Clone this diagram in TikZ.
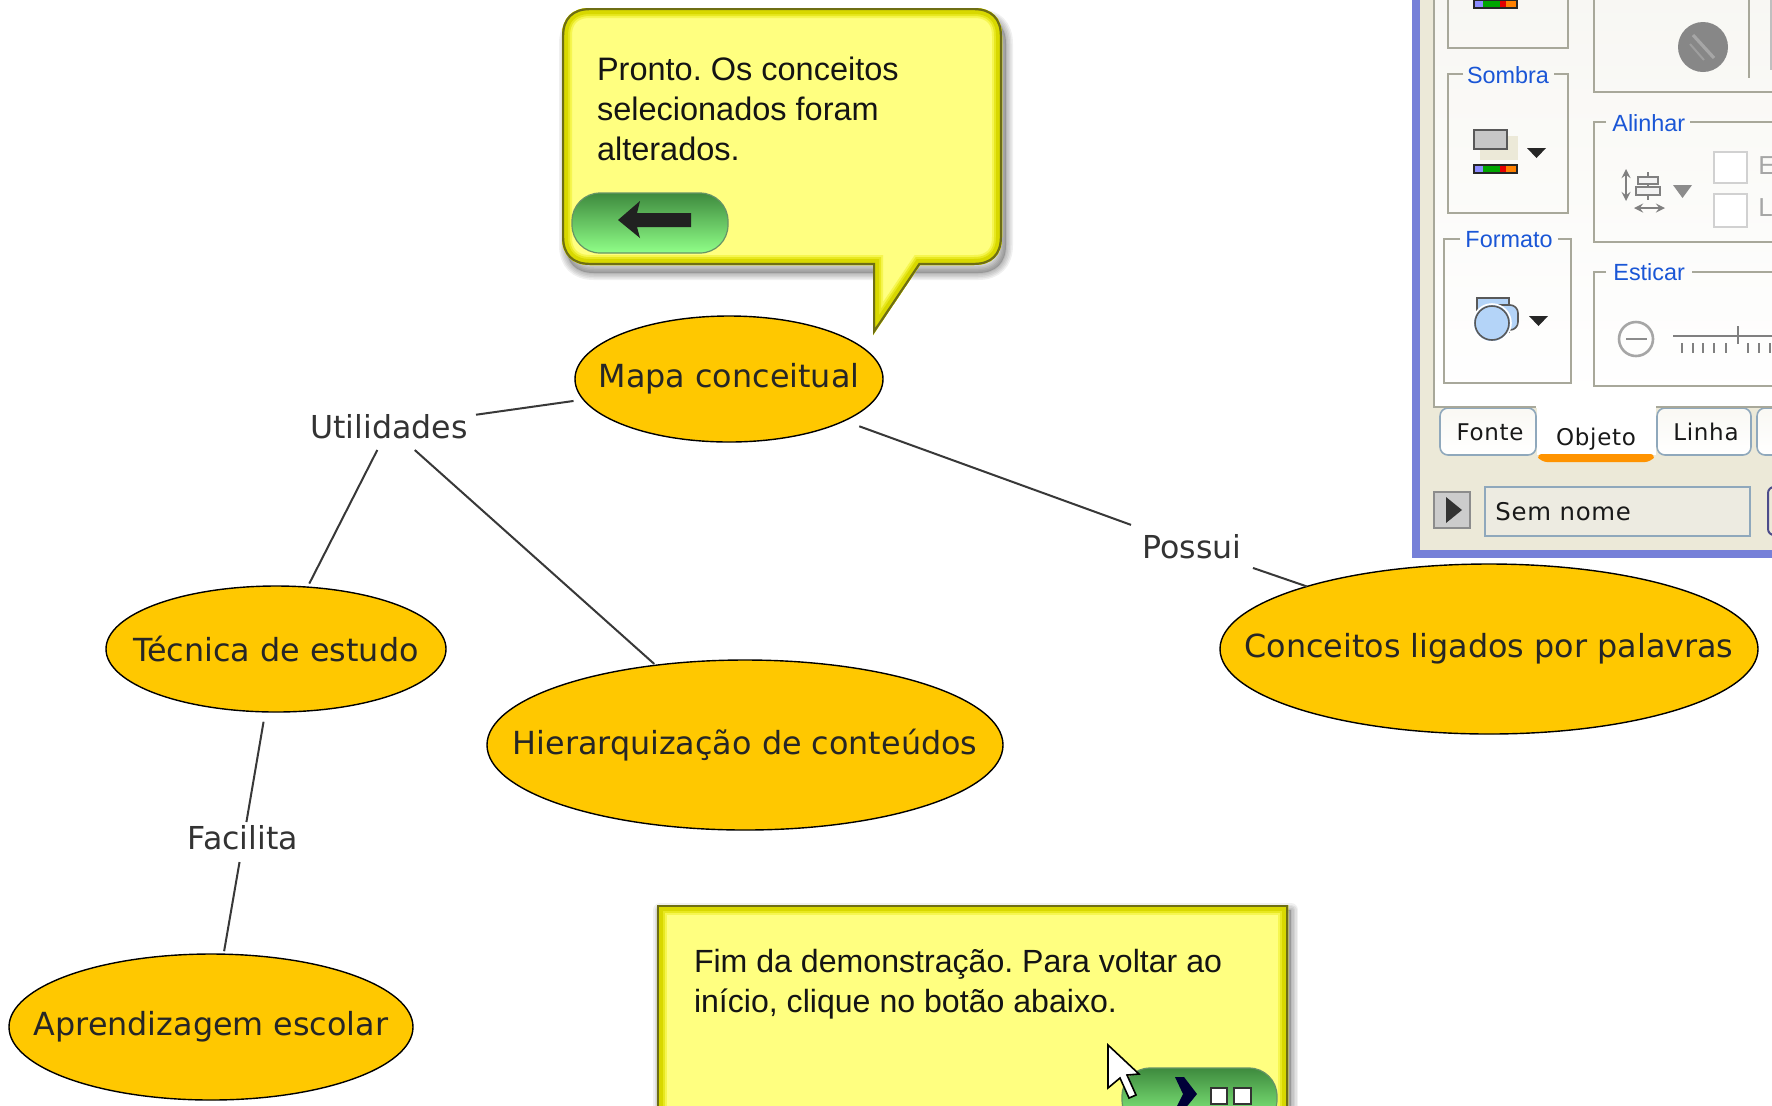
\documentclass[tikz,border=0pt]{standalone}
\usepackage{fontspec}
\setmainfont{Liberation Sans}
\newfontfamily\mapfont{DejaVu Sans}
\newfontfamily\tabfont[LetterSpace=3]{DejaVu Sans}
\usetikzlibrary{shapes.geometric}
\definecolor{conceptfill}{HTML}{FFC800}
\definecolor{notefill}{HTML}{FFFF80}
\definecolor{noteedge}{HTML}{6E6E14}
\definecolor{noteinner}{HTML}{D8D800}
\definecolor{notemid}{HTML}{E8E820}
\definecolor{notesoft}{HTML}{F6F650}
\definecolor{groupline}{HTML}{A8A89A}
\definecolor{beige}{HTML}{ECE9D8}
\definecolor{panelblue}{HTML}{7680D8}
\definecolor{labelblue}{HTML}{1A56D6}
\definecolor{tabedge}{HTML}{8FA8BC}
\definecolor{iconblue}{HTML}{B4D4F8}
\definecolor{pilltop}{HTML}{3E8A3E}
\definecolor{pillmid}{HTML}{78F078}
\definecolor{pilllow}{HTML}{90FF88}
\tikzset{
  concept/.style={ellipse,draw=black,line width=0.7pt,fill=conceptfill,inner sep=0pt,outer sep=0pt,
    text=black!85,font=\mapfont\fontsize{15.9}{18}\selectfont},
  linkword/.style={inner sep=0pt,outer sep=0pt,text=black!80,font=\mapfont\fontsize{15.8}{18}\selectfont},
  link/.style={draw=black!78,line width=1pt},
  notetext/.style={inner sep=0pt,outer sep=0pt,anchor=north west,align=left,text=black!92,
    font=\frenchspacing\fontsize{16.25}{20.1}\selectfont},
  grouplabel/.style={inner sep=0pt,text=labelblue,font=\fontsize{11.7}{14}\selectfont},
  groupbox/.style={draw=groupline,line width=1pt},
  tablabel/.style={inner sep=0pt,text=black!90,font=\tabfont\fontsize{11.5}{14}\selectfont},
  pill/.style={shade,top color=pilltop,middle color=pillmid,bottom color=pilllow,draw=green!30!black!60,line width=0.6pt,rounded corners=14pt},
  softshadow/.style={draw=black,opacity=0.06,line cap=round,line join=round},
}
\newcommand{\ribbon}[2]{%
  \fill[black!85] (#1,#2) rectangle ++(45,10);
  \fill[blue!45!white] (#1+2,#2+2) rectangle ++(8,6);
  \fill[green!65!black] (#1+10,#2+2) rectangle ++(17,6);
  \fill[red!90!black] (#1+27,#2+2) rectangle ++(6,6);
  \fill[orange] (#1+33,#2+2) rectangle ++(10,6);}
\newcommand{\bubblepath}{(562,36) .. controls (562,18) and (572,8) .. (590,8) -- (974,8) .. controls (992,8) and (1002,18) .. (1002,36) -- (1002,237) .. controls (1002,255) and (992,265) .. (974,265) -- (920,265) -- (873,335) -- (873,265) -- (590,265) .. controls (572,265) and (562,255) .. (562,237) -- cycle}
\newcommand{\bubbleback}{(566,44) .. controls (566,26) and (576,16) .. (594,16) -- (978,16) .. controls (996,16) and (1006,26) .. (1006,44) -- (1006,245) .. controls (1006,263) and (996,273) .. (978,273) -- (594,273) .. controls (576,273) and (566,263) .. (566,245) -- cycle}
\newcommand{\notepath}{(657,905) -- (1288,905) -- (1288,1135) -- (657,1135) -- cycle}
\newcommand{\noteback}{(660,910) -- (1291,910) -- (1291,1140) -- (660,1140) -- cycle}
\newcommand{\bevelled}[1]{%
  \fill[notefill] #1;
  \begin{scope}
    \clip #1;
    \draw[notesoft,line width=10pt,line join=miter] #1;
    \draw[notemid,line width=8pt,line join=miter] #1;
    \draw[noteinner,line width=6pt,line join=miter] #1;
    \draw[noteedge,line width=2.2pt,line join=miter] #1;
  \end{scope}}
\newcommand{\softback}[1]{%
  \foreach \wd in {7,5.5,4,2.5,1}
    \draw[softshadow,line width=\wd pt] #1;
  \fill[black,opacity=0.18] #1;}
\begin{document}
\begin{tikzpicture}[x=0.5pt,y=-0.5pt]
\clip (0,0) rectangle (1772,1105);
\fill[white] (0,0) rectangle (1772,1105);

% concepts
\node[concept,minimum width=154pt,minimum height=63pt] (mapa) at (729,379) {\makebox[0pt]{Mapa conceitual}};
\node[concept,minimum width=170pt,minimum height=63pt] (tecnica) at (276,649) {\makebox[0pt]{Técnica de estudo}};
\node[concept,minimum width=258pt,minimum height=85pt] (hier) at (745,745) {\makebox[0pt]{Hierarquização de conteúdos}};
\node[concept,minimum width=269pt,minimum height=85pt] (ligados) at (1489,649) {\makebox[0pt]{Conceitos ligados por palavras}};
\node[concept,minimum width=202pt,minimum height=73pt] (aprend) at (211,1027) {\makebox[0pt]{Aprendizagem escolar}};
% linking words
\node[linkword,minimum width=87pt,minimum height=23pt] (util) at (389,427) {Utilidades};
\node[linkword,minimum width=61pt,minimum height=23pt] (possui) at (1192,547) {Possui};
\node[linkword,minimum width=50pt,minimum height=20pt,text depth=5pt] (facilita) at (243,842) {Facilita};
% connectors
\draw[link,shorten >=5pt] (util) -- (mapa);
\draw[link,shorten >=2pt] (util) -- (tecnica);
\draw[link,shorten >=1pt] (util) -- (hier);
\draw[link,shorten <=8pt] (mapa) -- (possui);
\draw[link] (possui) -- (ligados);
\draw[link,shorten <=5pt] (tecnica) -- (facilita);
\draw[link,shorten >=1.5pt] (facilita) -- (aprend);

% panel
\fill[panelblue] (1412,-5) rectangle (1790,558);
\fill[beige] (1420,-5) rectangle (1790,550);
\shade[top color=black!4!beige!25!white,bottom color=white] (1435,-5) rectangle (1790,407);
\draw[groupbox] (1434,-5) -- (1434,407) -- (1536,407);
\draw[groupbox] (1656,407) -- (1790,407);
% group boxes
\draw[groupbox] (1448,-5) -- (1448,48) -- (1568,48) -- (1568,-5);
\draw[groupbox] (1594,-5) -- (1594,92) -- (1790,92);
\draw[groupbox] (1749,0) -- (1749,78);
\draw[groupbox,draw=black!25] (1771,0) -- (1771,70);
\draw[groupbox] (1463,74) -- (1448,74) -- (1448,213) -- (1568,213) -- (1568,74) -- (1554,74);
\draw[groupbox] (1460,239) -- (1444,239) -- (1444,383) -- (1571,383) -- (1571,239) -- (1558,239);
\draw[groupbox] (1606,122) -- (1594,122) -- (1594,242) -- (1790,242);
\draw[groupbox] (1690,122) -- (1790,122);
\draw[groupbox] (1606,272) -- (1594,272) -- (1594,386) -- (1790,386);
\draw[groupbox] (1692,272) -- (1790,272);
\node[grouplabel] (lsombra) at (1508,75) {Sombra};
\node[grouplabel] (lformato) at (1509,240) {Formato};
\node[grouplabel,anchor=west] (lalinhar) at (1612,123) {Alinhar};
\node[grouplabel,anchor=west] (lesticar) at (1613,272) {Esticar};
% top-left icon
\ribbon{1473}{-1}
% shadow icon
\fill[beige] (1480,136) rectangle (1518,160);
\draw[fill=black!22,draw=black!65,line width=0.8pt] (1474,130) rectangle (1507,149);
\ribbon{1473}{164}
\fill[black!85] (1527,148) -- (1546,148) -- (1536.5,158) -- cycle;
% no sign
\fill[black!47] (1703,47) circle (12.5pt);
\draw[black!35,line width=1.6pt] (1693,35) -- (1714,58);
\draw[black!38,line width=1pt] (1690,44) -- (1704,60);
% align icon
\draw[black!50,line width=1pt,<->,>=stealth] (1626,169) -- (1626,201);
\draw[black!50,line width=1pt,<->,>=stealth] (1634,208) -- (1665,208);
\draw[black!50,line width=0.9pt] (1648,172) -- (1648,200);
\draw[black!50,line width=0.9pt,fill=black!5] (1638,177) rectangle (1658,184);
\draw[black!50,line width=0.9pt,fill=black!5] (1636,187) rectangle (1660,195);
\fill[black!45] (1673,185) -- (1692,185) -- (1682.5,198) -- cycle;
\draw[black!18,line width=1.2pt,fill=white] (1714,152) rectangle (1747,183);
\draw[black!18,line width=1.2pt,fill=white] (1714,194) rectangle (1747,227);
\node[inner sep=0pt,anchor=west,text=black!35,font=\fontsize{13}{15}\selectfont] (letterE) at (1758,166) {E};
\node[inner sep=0pt,anchor=west,text=black!35,font=\fontsize{13}{15}\selectfont] (letterL) at (1758,208) {L:};
% format icon
\draw[black!65,line width=0.8pt,fill=iconblue] (1477,298) rectangle (1509,332);
\draw[black!65,line width=0.8pt,fill=iconblue,rounded corners=4pt] (1490,305) rectangle (1518,330);
\draw[white,line width=0.8pt,fill=iconblue] (1492,323) circle (9.5pt);
\draw[black!65,line width=0.8pt,fill=iconblue] (1492,323) circle (8.5pt);
\fill[black!85] (1529,316) -- (1548,316) -- (1538.5,326) -- cycle;
% minus circle
\draw[black!35,line width=1.3pt] (1636,339) circle (8.5pt);
\draw[black!45,line width=1pt] (1626,339) -- (1647,339);
% slider
\draw[black!50,line width=0.8pt] (1673,336) -- (1790,336);
\draw[black!50,line width=0.8pt] (1738,326) -- (1738,344);
\foreach \tk in {1682,1693,1703,1714,1726,1748,1759,1770}
  \draw[black!50,line width=0.8pt] (\tk,343) -- (\tk,353);
% tabs
\draw[draw=tabedge,line width=0.8pt,top color=beige!30!white,bottom color=white,rounded corners=4pt] (1440,408) -- (1440,455) -- (1536,455) -- (1536,408) -- cycle;
\draw[draw=tabedge,line width=0.8pt,top color=beige!30!white,bottom color=white,rounded corners=4pt] (1657,408) -- (1657,455) -- (1751,455) -- (1751,408) -- cycle;
\draw[draw=tabedge,line width=0.8pt,top color=beige!30!white,bottom color=white,rounded corners=4pt] (1757,408) -- (1757,455) -- (1800,455) -- (1800,408) -- cycle;
\draw[groupbox] (1434,407) -- (1536,407);
\draw[groupbox] (1656,407) -- (1790,407);
\fill[white] (1537,406) rectangle (1656,455);
\fill[orange!85!yellow,rounded corners=3pt] (1536,454) -- (1541,462) -- (1651,462) -- (1656,454) -- cycle;
\node[tablabel] (tfonte) at (1490,432) {Fonte};
\node[tablabel] (tobjeto) at (1596,439) {Objeto};
\node[tablabel] (tlinha) at (1706,432) {Linha};
% name row
\draw[draw=black!45,line width=0.8pt,fill=black!20] (1434,492) rectangle (1470,528);
\fill[black!80] (1446,497) -- (1462,510) -- (1446,523) -- cycle;
\draw[draw=tabedge,line width=0.9pt,fill=black!5!beige!60!white] (1485,487) rectangle (1750,536);
\node[tablabel,anchor=west,font=\tabfont\fontsize{12.2}{14}\selectfont] (tsem) at (1495,512) {Sem nome};
\draw[draw=blue!35!black!70,line width=1pt,fill=beige,rounded corners=3pt] (1768,487) rectangle (1790,535);

% top callout
\softback{\bubbleback}
\bevelled{\bubblepath}
\node[notetext] (pronto) at (597,57) {Pronto. Os conceitos\\selecionados foram\\alterados.};
\path[pill] (572,193) rectangle (728,253);
\fill[black!87] (618,220) -- (640,201) -- (637,213) -- (691,213) -- (691,227) -- (637,227) -- (640,238) -- cycle;

% bottom note
\softback{\noteback}
\bevelled{\notepath}
\node[notetext,font=\frenchspacing\fontsize{16.05}{20.1}\selectfont] (fim) at (694,949) {Fim da demonstração. Para voltar ao\\início, clique no botão abaixo.};
\path[pill] (1122,1068) rectangle (1277,1128);
\fill[black!78!blue] (1175,1077) -- (1184,1077) -- (1197,1094) -- (1184,1110) -- (1175,1110) -- (1183,1094) -- cycle;
\draw[black!80,line width=0.9pt,fill=white] (1211,1088) rectangle (1227,1104);
\draw[black!80,line width=0.9pt,fill=white] (1234,1088) rectangle (1251,1104);
\draw[black,line width=0.8pt,fill=white,line join=miter] (1108,1045) -- (1108,1088) -- (1120,1078) -- (1129,1098) -- (1136,1095) -- (1127,1075) -- (1139,1074) -- cycle;
\end{tikzpicture}
\end{document}
